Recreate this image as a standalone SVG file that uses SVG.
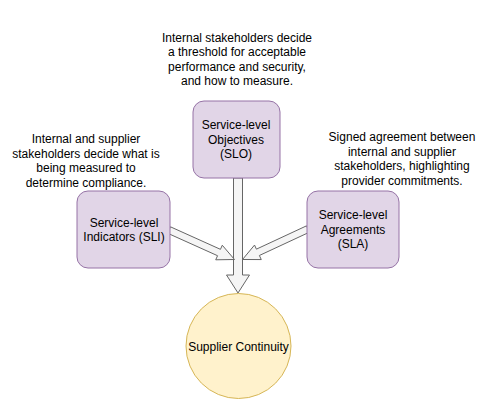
<svg xmlns="http://www.w3.org/2000/svg" width="497" height="416" viewBox="0 0 497 416">
<style>
text{font-family:"Liberation Sans",Arial,Helvetica,sans-serif;font-size:12px;fill:#000;text-anchor:middle}
.box{fill:#e1d5e7;stroke:#9673a6;stroke-width:1}
.circ{fill:#fff2cc;stroke:#d6b656;stroke-width:1}
.arrow{fill:#f5f5f5;stroke:#666666;stroke-width:1;stroke-linejoin:miter}
</style>
<rect width="497" height="416" fill="#ffffff"/>
<g id="connectors">
<polygon class="arrow" points="233.5,178 242.5,178 242.5,275 249.5,275 238,293 226.5,275 233.5,275"/>
<polygon class="arrow" points="167.56,233.19 217.56,255.71 215.72,259.81 234.5,259.5 222.28,245.23 220.44,249.33 170.44,226.81"/>
<polygon class="arrow" points="306.52,225.83 256.43,249.15 254.53,245.07 242.5,259.5 261.29,259.57 259.39,255.49 309.48,232.17"/>
</g>
<g id="note-slo">
<text x="237" y="41.5">Internal stakeholders decide</text>
<text x="237" y="56">a threshold for acceptable</text>
<text x="237" y="70.5">performance and security,</text>
<text x="237" y="85">and how to measure.</text>
</g>
<g id="note-sli">
<text x="86" y="143">Internal and supplier</text>
<text x="86" y="157.5">stakeholders decide what is</text>
<text x="86" y="172">being measured to</text>
<text x="86" y="186.5">determine compliance.</text>
</g>
<g id="note-sla">
<text x="402" y="141">Signed agreement between</text>
<text x="402" y="155.5">internal and supplier</text>
<text x="402" y="170">stakeholders, highlighting</text>
<text x="402" y="184.5">provider commitments.</text>
</g>
<g id="slo">
<rect class="box" x="193" y="101" width="87" height="77" rx="11" ry="11"/>
<text x="236" y="129">Service-level</text>
<text x="236" y="143.5">Objectives</text>
<text x="236" y="158">(SLO)</text>
</g>
<g id="sli">
<rect class="box" x="77" y="191" width="93" height="77" rx="11" ry="11"/>
<text x="124" y="226.5">Service-level</text>
<text x="124" y="241">Indicators (SLI)</text>
</g>
<g id="sla">
<rect class="box" x="307" y="191" width="92" height="77" rx="11" ry="11"/>
<text x="353" y="219">Service-level</text>
<text x="353" y="233.5">Agreements</text>
<text x="353" y="248">(SLA)</text>
</g>
<g id="continuity">
<circle class="circ" cx="238.5" cy="346" r="52.5"/>
<text x="238.5" y="350.5">Supplier Continuity</text>
</g>
</svg>
